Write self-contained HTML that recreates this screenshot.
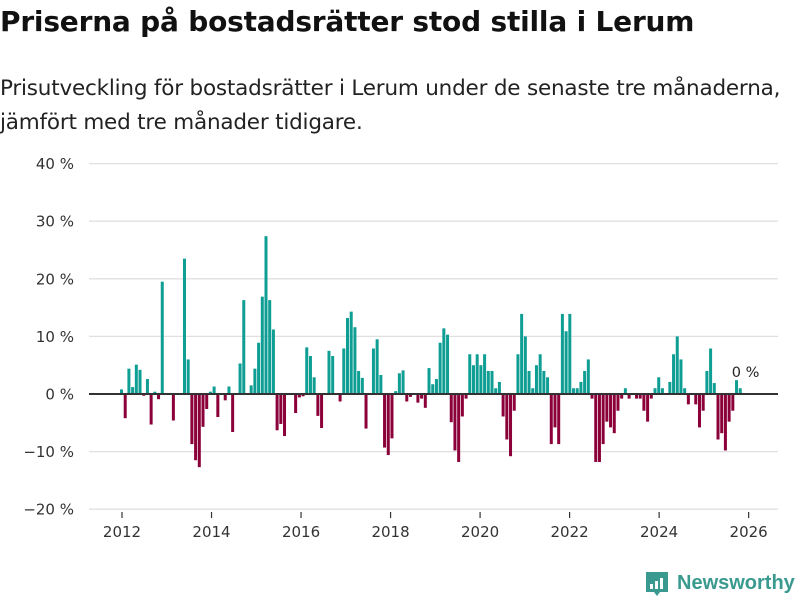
<!DOCTYPE html>
<html><head><meta charset="utf-8">
<style>
body{margin:0;background:#fff;font-family:"Liberation Sans",sans-serif;}
#wrap{position:relative;width:800px;height:600px;overflow:hidden;}
h1{position:absolute;left:0;top:5px;margin:0;font-family:"DejaVu Sans",sans-serif;font-size:28px;font-weight:bold;color:#111;white-space:nowrap;letter-spacing:-0.2px}
p{position:absolute;left:0;top:72px;margin:0;font-family:"DejaVu Sans",sans-serif;font-size:21.5px;line-height:34px;color:#222;width:800px;white-space:nowrap;letter-spacing:-0.2px}
</style></head><body>
<div id="wrap">
<h1>Priserna på bostadsrätter stod stilla i Lerum</h1>
<p>Prisutveckling för bostadsrätter i Lerum under de senaste tre månaderna,<br>jämfört med tre månader tidigare.</p>
<svg id="chart" width="800" height="600" style="position:absolute;left:0;top:0"></svg>
</div>
<script>
const yTicks=[40,30,20,10,0,-10,-20];
const yTickLabels=["40 %","30 %","20 %","10 %","0 %","−10 %","−20 %"];
const xTickYears=[2012,2014,2016,2018,2020,2022,2024,2026];
const startYear=2012;
const values=[0.8,-4.2,4.4,1.2,5.1,4.2,-0.3,2.6,-5.3,0.4,-0.9,19.5,
0,0,-4.6,0,0,23.5,6.0,-8.7,-11.5,-12.7,-5.7,-2.6,
0.4,1.3,-4,0,-1.1,1.3,-6.6,0,5.3,16.3,0,1.5,
4.4,8.9,16.9,27.4,16.3,11.2,-6.3,-5.2,-7.3,0,0,-3.3,
-0.6,-0.4,8.1,6.6,2.9,-3.8,-5.9,0,7.5,6.6,0,-1.3,
7.9,13.2,14.3,11.6,4.0,2.8,-6.0,0,7.9,9.5,3.3,-9.3,
-10.6,-7.7,0.5,3.6,4.1,-1.3,-0.5,0,-1.5,-0.8,-2.4,4.5,
1.7,2.6,8.9,11.4,10.3,-4.9,-9.8,-11.8,-3.9,-0.8,6.9,5.0,
6.9,5.0,6.9,4.0,4.0,1.0,2.1,-3.9,-7.9,-10.8,-2.9,6.9,
13.9,10.0,4.0,1.0,5.0,6.9,4.0,2.9,-8.7,-5.8,-8.7,13.9,
10.9,13.9,1.0,1.0,2.1,4.0,6.0,-0.8,-11.8,-11.8,-8.7,-4.8,
-5.8,-6.8,-2.9,-0.8,1.0,-0.8,0,-0.8,-0.8,-2.9,-4.8,-0.8,
1.0,2.9,1.0,0,2.1,6.9,10.0,6.0,1.0,-1.8,0,-1.8,
-5.8,-2.9,4.0,7.9,1.9,-7.9,-6.8,-9.8,-4.8,-2.9,2.4,1.0];
const lastLabel="0 %";

const NS="http://www.w3.org/2000/svg";
const svg=document.getElementById('chart');
function y(v){return 394-v*5.76;}
function xTick(yr){return 122+(yr-startYear)*44.76;}
function xBar(i){return 120+i*3.705;}
function mk(t,a){const e=document.createElementNS(NS,t);for(const k in a)e.setAttribute(k,a[k]);svg.appendChild(e);return e;}

yTicks.forEach((t,i)=>{
  if(t!==0){const g=mk('line',{x1:89,x2:778,y1:y(t),y2:y(t),stroke:'#e0e0e0','stroke-width':1.3});
  
  }
  const tx=mk('text',{x:74,y:y(t)+5.5,'text-anchor':'end','font-size':15,fill:'#333','font-family':'DejaVu Sans, sans-serif'});
  tx.textContent=yTickLabels[i];
  
  
});
xTickYears.forEach(yr=>{
  const l=mk('line',{x1:xTick(yr),x2:xTick(yr),y1:512,y2:518,stroke:'#333','stroke-width':1.2});
  
  
  const tx=mk('text',{x:xTick(yr),y:537,'text-anchor':'middle','font-size':15,fill:'#333','font-family':'DejaVu Sans, sans-serif'});
  tx.textContent=yr;
  
  
});
values.forEach((v,i)=>{
  if(v===0)return;
  const top=v>0?y(v):y(0);
  const r=mk('rect',{x:xBar(i),y:top,width:3,height:Math.abs(y(v)-y(0)),fill:v>0?'#0f9e94':'#8b0039'});
  
  
});
const z=mk('line',{x1:89,x2:778,y1:y(0),y2:y(0),stroke:'#333','stroke-width':2});


const lb=mk('text',{x:xBar(values.length-1)-7,y:y(values[values.length-1])-11,'font-size':14.5,fill:'#222','font-family':'DejaVu Sans, sans-serif'});
lb.textContent=lastLabel;



const lg=mk('g',{});


const ic=document.createElementNS(NS,'path');
ic.setAttribute('d','M646 572 h22 v20 h-8 l-3 4 l-3 -4 h-8 z');
ic.setAttribute('fill','#3a9a8f');
lg.appendChild(ic);
[[650,584,3,5],[655,581,3,8],[660,578,3,11]].forEach(b=>{const r=document.createElementNS(NS,'rect');r.setAttribute('x',b[0]);r.setAttribute('y',b[1]);r.setAttribute('width',b[2]);r.setAttribute('height',b[3]);r.setAttribute('fill','#fff');lg.appendChild(r);});
const lt=document.createElementNS(NS,'text');
lt.setAttribute('x',677);lt.setAttribute('y',589);lt.setAttribute('font-size',20);lt.setAttribute('font-weight','bold');lt.setAttribute('fill','#3a9a8f');lt.setAttribute('font-family','Liberation Sans, sans-serif');
lt.textContent='Newsworthy';
lg.appendChild(lt);
</script>
</body></html>
